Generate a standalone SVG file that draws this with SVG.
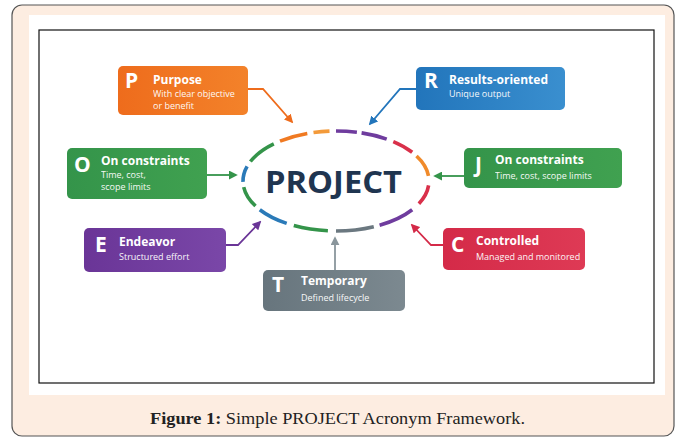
<svg xmlns="http://www.w3.org/2000/svg" width="677" height="439" viewBox="0 0 677 439">
<style>
.ltr{font-family:"Open Sans","Liberation Sans",sans-serif;font-weight:700;fill:#fff}
.ttl{font-family:"Open Sans","Liberation Sans",sans-serif;font-weight:700;fill:#fff;font-size:12px}
.sub{font-family:"Open Sans","Liberation Sans",sans-serif;fill:#fff;font-size:9px;opacity:.95}
.con{fill:none;stroke-width:1.8}
.arc{fill:none;stroke-width:3.6;stroke-linecap:butt}
.cap{font-family:"Liberation Serif",serif;font-size:17px;fill:#222}
</style>
<defs>
<linearGradient id="gO" x1="0" y1="0" x2="1" y2="0"><stop offset="0" stop-color="#ee6c1c"/><stop offset="1" stop-color="#f3822a"/></linearGradient>
<linearGradient id="gB" x1="0" y1="0" x2="1" y2="0"><stop offset="0" stop-color="#2275bb"/><stop offset="1" stop-color="#3a8fcf"/></linearGradient>
<linearGradient id="gG" x1="0" y1="0" x2="1" y2="0"><stop offset="0" stop-color="#34944a"/><stop offset="1" stop-color="#40a150"/></linearGradient>
<linearGradient id="gP" x1="0" y1="0" x2="1" y2="0"><stop offset="0" stop-color="#6a3597"/><stop offset="1" stop-color="#7a47a8"/></linearGradient>
<linearGradient id="gR" x1="0" y1="0" x2="1" y2="0"><stop offset="0" stop-color="#d42a48"/><stop offset="1" stop-color="#de3a55"/></linearGradient>
<linearGradient id="gT" x1="0" y1="0" x2="1" y2="0"><stop offset="0" stop-color="#67757d"/><stop offset="1" stop-color="#7c8990"/></linearGradient>
<marker id="mO" viewBox="0 0 10 10" refX="8" refY="5" markerWidth="9" markerHeight="9" markerUnits="userSpaceOnUse" orient="auto"><path d="M0,0 L10,5 L0,10 z" fill="#ee6c1c"/></marker>
<marker id="mB" viewBox="0 0 10 10" refX="8" refY="5" markerWidth="9" markerHeight="9" markerUnits="userSpaceOnUse" orient="auto"><path d="M0,0 L10,5 L0,10 z" fill="#2275bb"/></marker>
<marker id="mG" viewBox="0 0 10 10" refX="8" refY="5" markerWidth="9" markerHeight="9" markerUnits="userSpaceOnUse" orient="auto"><path d="M0,0 L10,5 L0,10 z" fill="#34944a"/></marker>
<marker id="mP" viewBox="0 0 10 10" refX="8" refY="5" markerWidth="9" markerHeight="9" markerUnits="userSpaceOnUse" orient="auto"><path d="M0,0 L10,5 L0,10 z" fill="#6a3597"/></marker>
<marker id="mR" viewBox="0 0 10 10" refX="8" refY="5" markerWidth="9" markerHeight="9" markerUnits="userSpaceOnUse" orient="auto"><path d="M0,0 L10,5 L0,10 z" fill="#d42a48"/></marker>
<marker id="mT" viewBox="0 0 10 10" refX="8" refY="5" markerWidth="9" markerHeight="9" markerUnits="userSpaceOnUse" orient="auto"><path d="M0,0 L10,5 L0,10 z" fill="#8a969c"/></marker>
</defs>

<g id="frame">
<rect x="12" y="5" width="662" height="431" rx="10" fill="#fdede1" stroke="#555" stroke-width="1.2"/>
<rect x="29" y="15" width="636" height="380" fill="#fff"/>
<rect x="39" y="30" width="615" height="353" fill="#fff" stroke="#111" stroke-width="1.2"/>
<text class="cap" x="150" y="424" textLength="375" lengthAdjust="spacingAndGlyphs"><tspan font-weight="700">Figure 1:</tspan> Simple PROJECT Acronym Framework.</text>
</g>

<g id="connectors">
<path class="con" d="M248,89 L263,89 L292,122" stroke="#ee6c1c" marker-end="url(#mO)"/>
<path class="con" d="M416,89 L400,89 L370,124" stroke="#2275bb" marker-end="url(#mB)"/>
<path class="con" d="M207,175 L236,175" stroke="#34944a" marker-end="url(#mG)"/>
<path class="con" d="M464,176 L435,176" stroke="#34944a" marker-end="url(#mG)"/>
<path class="con" d="M226,245 L238,245 L260,222" stroke="#6a3597" marker-end="url(#mP)"/>
<path class="con" d="M443,245 L431,245 L412,225" stroke="#d42a48" marker-end="url(#mR)"/>
<path class="con" d="M335,270 L335,238" stroke="#8a969c" marker-end="url(#mT)"/>
</g>

<g id="project">
<path class="arc" stroke="#6f3c9e" d="M336,131 A93,50 0 0 1 356.9,132.3"/>
<path class="arc" stroke="#6f3c9e" d="M361.6,132.9 A93,50 0 0 1 386.7,139.1"/>
<path class="arc" stroke="#d9304a" d="M393.3,141.6 A93,50 0 0 1 412.2,152.3"/>
<path class="arc" stroke="#f08a2a" d="M416.5,156 A93,50 0 0 1 428.5,175.8"/>
<path class="arc" stroke="#d9304a" d="M428.6,185.4 A93,50 0 0 1 418.9,203.7"/>
<path class="arc" stroke="#6f3c9e" d="M412.2,209.7 A93,50 0 0 1 379.6,225.2"/>
<path class="arc" stroke="#6b7880" d="M373.8,226.7 A93,50 0 0 1 336,231"/>
<path class="arc" stroke="#34944a" d="M327.9,230.8 A93,50 0 0 1 293.8,225.6"/>
<path class="arc" stroke="#2a7ab8" d="M286.7,223.4 A93,50 0 0 1 259.8,209.7"/>
<path class="arc" stroke="#34944a" d="M255.5,206 A93,50 0 0 1 243.7,187.1"/>
<path class="arc" stroke="#2a7ab8" d="M243,181.9 A93,50 0 0 1 247.1,166.4"/>
<path class="arc" stroke="#34944a" d="M250.4,161.5 A93,50 0 0 1 273.8,143.9"/>
<path class="arc" stroke="#f07a22" d="M280,141.1 A93,50 0 0 1 307.3,133.5"/>
<path class="arc" stroke="#f39a3a" d="M313.5,132.5 A93,50 0 0 1 329.5,131.1"/>
<text x="265" y="193" textLength="137" lengthAdjust="spacingAndGlyphs" font-family="Open Sans, Liberation Sans, sans-serif" font-weight="700" font-size="30" fill="#1f3550">PROJECT</text>
</g>

<g id="node-P">
<rect x="118" y="66" width="130" height="49" rx="5" fill="url(#gO)"/>
<text class="ltr" x="125" y="88" font-size="21">P</text>
<text class="ttl" x="153" y="84">Purpose</text>
<text class="sub" x="153" y="97">With clear objective</text>
<text class="sub" x="153" y="108.5">or benefit</text>
</g>

<g id="node-R">
<rect x="416" y="67" width="149" height="43" rx="5" fill="url(#gB)"/>
<text class="ltr" x="424" y="88" font-size="21">R</text>
<text class="ttl" x="449" y="84" font-size="12.5">Results-oriented</text>
<text class="sub" x="449" y="97">Unique output</text>
</g>

<g id="node-O">
<rect x="67" y="148" width="140" height="51" rx="5" fill="url(#gG)"/>
<text class="ltr" x="74" y="172" font-size="21">O</text>
<text class="ttl" x="101" y="165">On constraints</text>
<text class="sub" x="101" y="178">Time, cost,</text>
<text class="sub" x="101" y="190">scope limits</text>
</g>

<g id="node-J">
<rect x="464" y="148" width="158" height="40" rx="5" fill="url(#gG)"/>
<text class="ltr" x="475" y="172" font-size="21">J</text>
<text class="ttl" x="495" y="164">On constraints</text>
<text class="sub" x="495" y="179">Time, cost, scope limits</text>
</g>

<g id="node-E">
<rect x="84" y="228" width="142" height="44" rx="5" fill="url(#gP)"/>
<text class="ltr" x="95" y="252" font-size="21">E</text>
<text class="ttl" x="119" y="246">Endeavor</text>
<text class="sub" x="119" y="260">Structured effort</text>
</g>

<g id="node-C">
<rect x="443" y="228" width="142" height="42" rx="5" fill="url(#gR)"/>
<text class="ltr" x="451" y="252" font-size="21">C</text>
<text class="ttl" x="476" y="245">Controlled</text>
<text class="sub" x="476" y="260">Managed and monitored</text>
</g>

<g id="node-T">
<rect x="263" y="270" width="142" height="41" rx="5" fill="url(#gT)"/>
<text class="ltr" x="272" y="292" font-size="21">T</text>
<text class="ttl" x="301" y="285">Temporary</text>
<text class="sub" x="301" y="301">Defined lifecycle</text>
</g>
</svg>
